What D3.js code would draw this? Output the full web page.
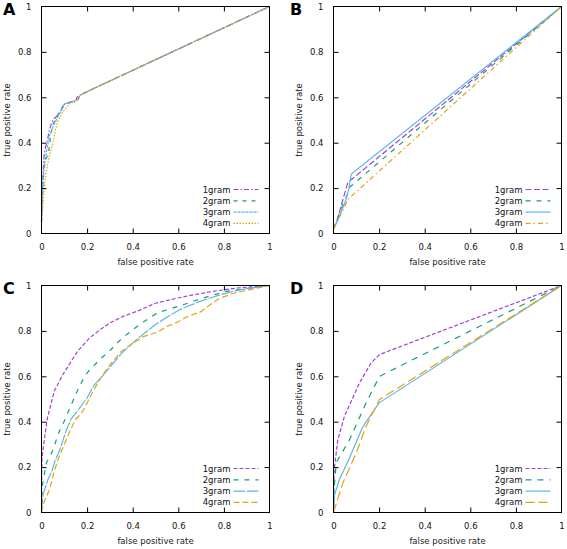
<!DOCTYPE html>
<html>
<head>
<meta charset="utf-8">
<script src="https://cdn.jsdelivr.net/npm/d3@7"></script>
<style>
  body { margin: 0; background: #fff; }
  svg text { font-family: "DejaVu Sans", Verdana, sans-serif; }
</style>
</head>
<body>
<svg id="chart" width="567" height="549"></svg>
<script>
// ---------- data ----------
const seriesNames = ["1gram", "2gram", "3gram", "4gram"];
const panelLabels = ["A", "B", "C", "D"];
const xTicks = [0, 0.2, 0.4, 0.6, 0.8, 1];
const yTicks = [0, 0.2, 0.4, 0.6, 0.8, 1];
const xTickLabels = ["0", "0.2", "0.4", "0.6", "0.8", "1"];
const yTickLabels = ["0", "0.2", "0.4", "0.6", "0.8", "1"];

// Panel A  [fpr, tpr]
const rocA1 = [[0,0.05],[0.004,0.2],[0.01,0.33],[0.015,0.37],[0.026,0.41],[0.035,0.46],[0.05,0.5],[0.06,0.51],[0.08,0.53],[0.1,0.57],[0.13,0.58],[0.15,0.58],[0.155,0.6],[0.17,0.61],[0.2,0.625],[1,1]];
const rocA2 = [[0,0.05],[0.005,0.18],[0.01,0.28],[0.02,0.33],[0.03,0.35],[0.04,0.43],[0.05,0.48],[0.07,0.52],[0.1,0.57],[0.13,0.58],[0.16,0.59],[0.17,0.61],[0.2,0.625],[1,1]];
const rocA3 = [[0,0.06],[0.006,0.22],[0.012,0.3],[0.025,0.38],[0.035,0.43],[0.05,0.47],[0.08,0.53],[0.1,0.57],[0.13,0.58],[0.16,0.59],[0.17,0.61],[0.2,0.625],[1,1]];
const rocA4 = [[0,0.05],[0.012,0.2],[0.02,0.27],[0.034,0.34],[0.05,0.4],[0.06,0.45],[0.07,0.49],[0.09,0.53],[0.12,0.57],[0.16,0.59],[0.17,0.61],[0.2,0.625],[1,1]];

// Panel B
const rocB1 = [[0,0.02],[0.02,0.07],[0.034,0.124],[0.063,0.225],[1,1]];
const rocB2 = [[0,0.02],[0.03,0.1],[0.06,0.17],[0.072,0.205],[1,1]];
const rocB3 = [[0,0.02],[0.02,0.06],[0.055,0.15],[0.068,0.2],[0.078,0.262],[1,1]];
const rocB4 = [[0,0.02],[0.03,0.08],[0.065,0.152],[1,1]];

// Panel C
const rocC1 = [[0,0.09],[0.002,0.24],[0.015,0.34],[0.026,0.417],[0.037,0.46],[0.056,0.535],[0.095,0.61],[0.158,0.71],[0.212,0.77],[0.25,0.8],[0.3,0.835],[0.36,0.865],[0.42,0.887],[0.5,0.922],[0.593,0.944],[0.666,0.959],[0.77,0.977],[0.87,0.99],[1,1]];
const rocC2 = [[0,0.02],[0.004,0.12],[0.022,0.22],[0.048,0.27],[0.075,0.35],[0.107,0.417],[0.124,0.46],[0.17,0.564],[0.2,0.615],[0.256,0.675],[0.297,0.71],[0.35,0.765],[0.43,0.828],[0.51,0.88],[0.622,0.915],[0.695,0.941],[0.81,0.974],[0.93,0.991],[1,1]];
const rocC3 = [[0,0.01],[0.007,0.08],[0.02,0.12],[0.03,0.15],[0.045,0.18],[0.06,0.23],[0.078,0.27],[0.095,0.32],[0.107,0.358],[0.129,0.41],[0.16,0.45],[0.2,0.505],[0.23,0.56],[0.26,0.593],[0.3,0.64],[0.355,0.705],[0.42,0.765],[0.5,0.828],[0.55,0.86],[0.608,0.895],[0.695,0.93],[0.783,0.959],[0.87,0.981],[1,1]];
const rocC4 = [[0,0],[0.007,0.034],[0.019,0.065],[0.035,0.1],[0.056,0.182],[0.075,0.24],[0.1,0.3],[0.125,0.36],[0.15,0.41],[0.18,0.445],[0.209,0.5],[0.235,0.55],[0.26,0.593],[0.3,0.65],[0.35,0.71],[0.4,0.745],[0.447,0.775],[0.51,0.795],[0.55,0.82],[0.6,0.84],[0.637,0.862],[0.7,0.885],[0.725,0.905],[0.76,0.93],[0.783,0.944],[0.842,0.966],[0.93,0.985],[1,1]];

// Panel D
const rocD1 = [[0,0.013],[0.003,0.19],[0.019,0.32],[0.048,0.424],[0.114,0.571],[0.165,0.659],[0.202,0.696],[1,1]];
const rocD2 = [[0,0.013],[0.004,0.12],[0.012,0.22],[0.07,0.32],[0.143,0.483],[0.202,0.6],[1,1]];
const rocD3 = [[0,0.013],[0.005,0.08],[0.026,0.145],[0.07,0.24],[0.125,0.37],[0.14,0.395],[0.2,0.483],[1,1]];
const rocD4 = [[0,0],[0.041,0.13],[0.1,0.263],[0.143,0.38],[0.202,0.498],[1,1]];

const colors = ["#a53ed6", "#149f7c", "#5cb6e8", "#e6a210"];

// dash styles per panel, per series
const dashA = ["5,2,1.5,2", "4,5", "3,1", "1.5,1.5"];
const dashB = ["6,2.5", "5,6", null, "5,3,1.5,3"];
const dashC = ["4,2", "5,6", "12,1.5", "6,3"];
const dashD = ["4,2", "6,6", null, "9,4"];

// ---------- layout ----------
const panels = [
  { label: panelLabels[0], series: [rocA1, rocA2, rocA3, rocA4], dash: dashA, left: 41.5, top: 6.5, lx: 3, ly: 15 },
  { label: panelLabels[1], series: [rocB1, rocB2, rocB3, rocB4], dash: dashB, left: 333.5, top: 6.5, lx: 290, ly: 15 },
  { label: panelLabels[2], series: [rocC1, rocC2, rocC3, rocC4], dash: dashC, left: 41.5, top: 285.5, lx: 3, ly: 294 },
  { label: panelLabels[3], series: [rocD1, rocD2, rocD3, rocD4], dash: dashD, left: 333.5, top: 285.5, lx: 290, ly: 294 }
];
const W = 228, H = 227;

const svg = d3.select("#chart");

panels.forEach(p => {
  const g = svg.append("g");
  const x = d3.scaleLinear().domain([0, 1]).range([p.left, p.left + W]);
  const y = d3.scaleLinear().domain([0, 1]).range([p.top + H, p.top]);

  // curves
  const line = d3.line().x(d => x(d[0])).y(d => y(d[1]));
  p.series.forEach((s, i) => {
    g.append("path")
      .attr("d", line(s))
      .attr("fill", "none")
      .attr("stroke", colors[i])
      .attr("stroke-width", 1.2)
      .attr("stroke-dasharray", p.dash[i]);
  });

  // axes with inward ticks (mirrored)
  const tl = 5;
  const fmtX = (d, i) => xTickLabels[i];
  const fmtY = (d, i) => yTickLabels[i];
  const axB = g.append("g").attr("transform", `translate(0,${p.top + H})`)
    .call(d3.axisBottom(x).tickValues(xTicks).tickFormat(fmtX).tickSizeInner(-tl).tickSizeOuter(0).tickPadding(tl + 5));
  const axT = g.append("g").attr("transform", `translate(0,${p.top})`)
    .call(d3.axisTop(x).tickValues(xTicks.slice(1, -1)).tickFormat("").tickSizeInner(-tl).tickSizeOuter(0));
  const axL = g.append("g").attr("transform", `translate(${p.left},0)`)
    .call(d3.axisLeft(y).tickValues(yTicks).tickFormat(fmtY).tickSizeInner(-tl).tickSizeOuter(0).tickPadding(tl + 5));
  const axR = g.append("g").attr("transform", `translate(${p.left + W},0)`)
    .call(d3.axisRight(y).tickValues(yTicks.slice(1, -1)).tickFormat("").tickSizeInner(-tl).tickSizeOuter(0));
  [axB, axT, axL, axR].forEach(a => {
    a.select(".domain").remove();
    a.selectAll(".tick line").attr("stroke", "#000");
    a.selectAll("text").attr("font-size", 8.5).attr("fill", "#111").attr("font-family", "DejaVu Sans, Verdana, sans-serif");
  });
  axB.selectAll(".tick line").filter(d => d === 0 || d === 1).remove();
  axL.selectAll(".tick line").filter(d => d === 0 || d === 1).remove();

  // frame
  g.append("rect")
    .attr("x", p.left).attr("y", p.top).attr("width", W).attr("height", H)
    .attr("fill", "none").attr("stroke", "#000").attr("stroke-width", 1);

  // axis titles
  g.append("text")
    .attr("x", p.left + W / 2).attr("y", p.top + H + 31)
    .attr("text-anchor", "middle").attr("font-size", 8.5).attr("fill", "#222")
    .text("false positive rate");
  g.append("text")
    .attr("transform", `translate(${p.left - 32},${p.top + H / 2}) rotate(-90)`)
    .attr("text-anchor", "middle").attr("font-size", 8.5).attr("fill", "#222")
    .text("true positive rate");

  // legend
  const ly0 = p.top + H - 44;
  seriesNames.forEach((n, i) => {
    const yy = ly0 + i * 11.3;
    g.append("text")
      .attr("x", p.left + W - 39).attr("y", yy + 3)
      .attr("text-anchor", "end").attr("font-size", 8.5).attr("fill", "#111")
      .text(n);
    g.append("line")
      .attr("x1", p.left + W - 36).attr("x2", p.left + W - 11)
      .attr("y1", yy).attr("y2", yy)
      .attr("stroke", colors[i]).attr("stroke-width", 1.2)
      .attr("stroke-dasharray", p.dash[i]);
  });

  // panel label
  svg.append("text")
    .attr("x", p.lx).attr("y", p.ly)
    .attr("font-family", "Liberation Sans, Arial, sans-serif")
    .attr("font-weight", "bold").attr("font-size", 16).attr("fill", "#000")
    .text(p.label);
});
</script>
</body>
</html>
